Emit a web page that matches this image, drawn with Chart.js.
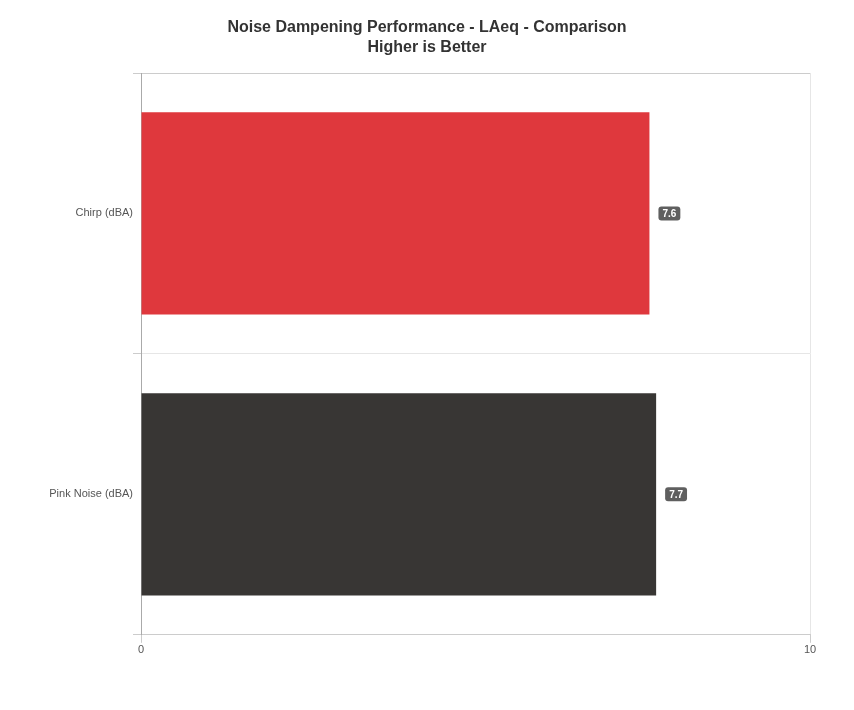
<!DOCTYPE html>
<html>
<head>
<meta charset="utf-8">
<script src="https://cdn.jsdelivr.net/npm/chart.js@4"></script>
<style>
  body { margin: 0; background: #fff; }
  #wrap { width: 854px; height: 710px; }
</style>
</head>
<body>
<div id="wrap"><canvas id="noiseChart" width="854" height="710"></canvas></div>
<script>
const categories = ['Chirp (dBA)', 'Pink Noise (dBA)'];
const values = [7.6, 7.7];
const bar_colors = ['#df383d', '#383634'];
const x_ticks = [0, 10];

// small dark badge with the value next to each bar end
const valueBadges = {
  id: 'valueBadges',
  afterDatasetsDraw(chart) {
    const ctx = chart.ctx;
    const meta = chart.getDatasetMeta(0);
    ctx.save();
    ctx.font = 'bold 10px "Liberation Sans", Arial, sans-serif';
    ctx.textAlign = 'center';
    ctx.textBaseline = 'middle';
    meta.data.forEach((bar, i) => {
      const text = values[i].toFixed(1);
      const w = ctx.measureText(text).width + 8;
      const h = 14;
      const x = bar.x + 9;
      const y = bar.y - h / 2;
      ctx.fillStyle = '#5f5f5f';
      ctx.beginPath();
      ctx.roundRect(x, y, w, h, 3);
      ctx.fill();
      ctx.fillStyle = '#fff';
      ctx.fillText(text, x + w / 2, bar.y + 0.5);
    });
    ctx.restore();
  }
};

const ctx = document.getElementById('noiseChart').getContext('2d');
new Chart(ctx, {
  type: 'bar',
  data: {
    labels: categories,
    datasets: [{
      data: values,
      backgroundColor: bar_colors,
      borderWidth: 0
    }]
  },
  options: {
    indexAxis: 'y',
    responsive: false,
    animation: false,
    layout: { padding: { top: 0, right: 0, bottom: 52, left: 0 } },
    plugins: {
      legend: { display: false },
      tooltip: { enabled: false },
      title: {
        display: true,
        text: ['Noise Dampening Performance - LAeq - Comparison', 'Higher is Better'],
        color: '#333',
        font: { family: '"Liberation Sans", Arial, sans-serif', size: 16, weight: 'bold', lineHeight: 1.25 },
        padding: { top: 18, bottom: 15 }
      }
    },
    scales: {
      x: {
        min: 0,
        max: 10,
        afterBuildTicks(axis) {
          axis.ticks = x_ticks.map(v => ({ value: v }));
        },
        grid: { color: '#e6e6e6', tickLength: 8, tickColor: '#ccc' },
        border: { color: '#ccc' },
        ticks: {
          color: '#555',
          font: { family: '"Liberation Sans", Arial, sans-serif', size: 11 },
          padding: 1
        }
      },
      y: {
        afterFit(axis) { axis.width = 141; },
        grid: {
          offset: true,
          tickLength: 8,
          color: c => (c.index === 0 || c.index === categories.length) ? '#ccc' : '#e6e6e6',
          tickColor: '#ccc'
        },
        border: { color: '#aaa' },
        ticks: {
          color: '#555',
          font: { family: '"Liberation Sans", Arial, sans-serif', size: 11 },
          padding: 0
        }
      },
      // empty right-hand axis, only there to keep the space on the right
      yRight: {
        type: 'category',
        position: 'right',
        afterFit(axis) { axis.width = 44; },
        grid: { display: false },
        border: { display: false },
        ticks: { display: false }
      }
    }
  },
  plugins: [valueBadges]
});
</script>
</body>
</html>
